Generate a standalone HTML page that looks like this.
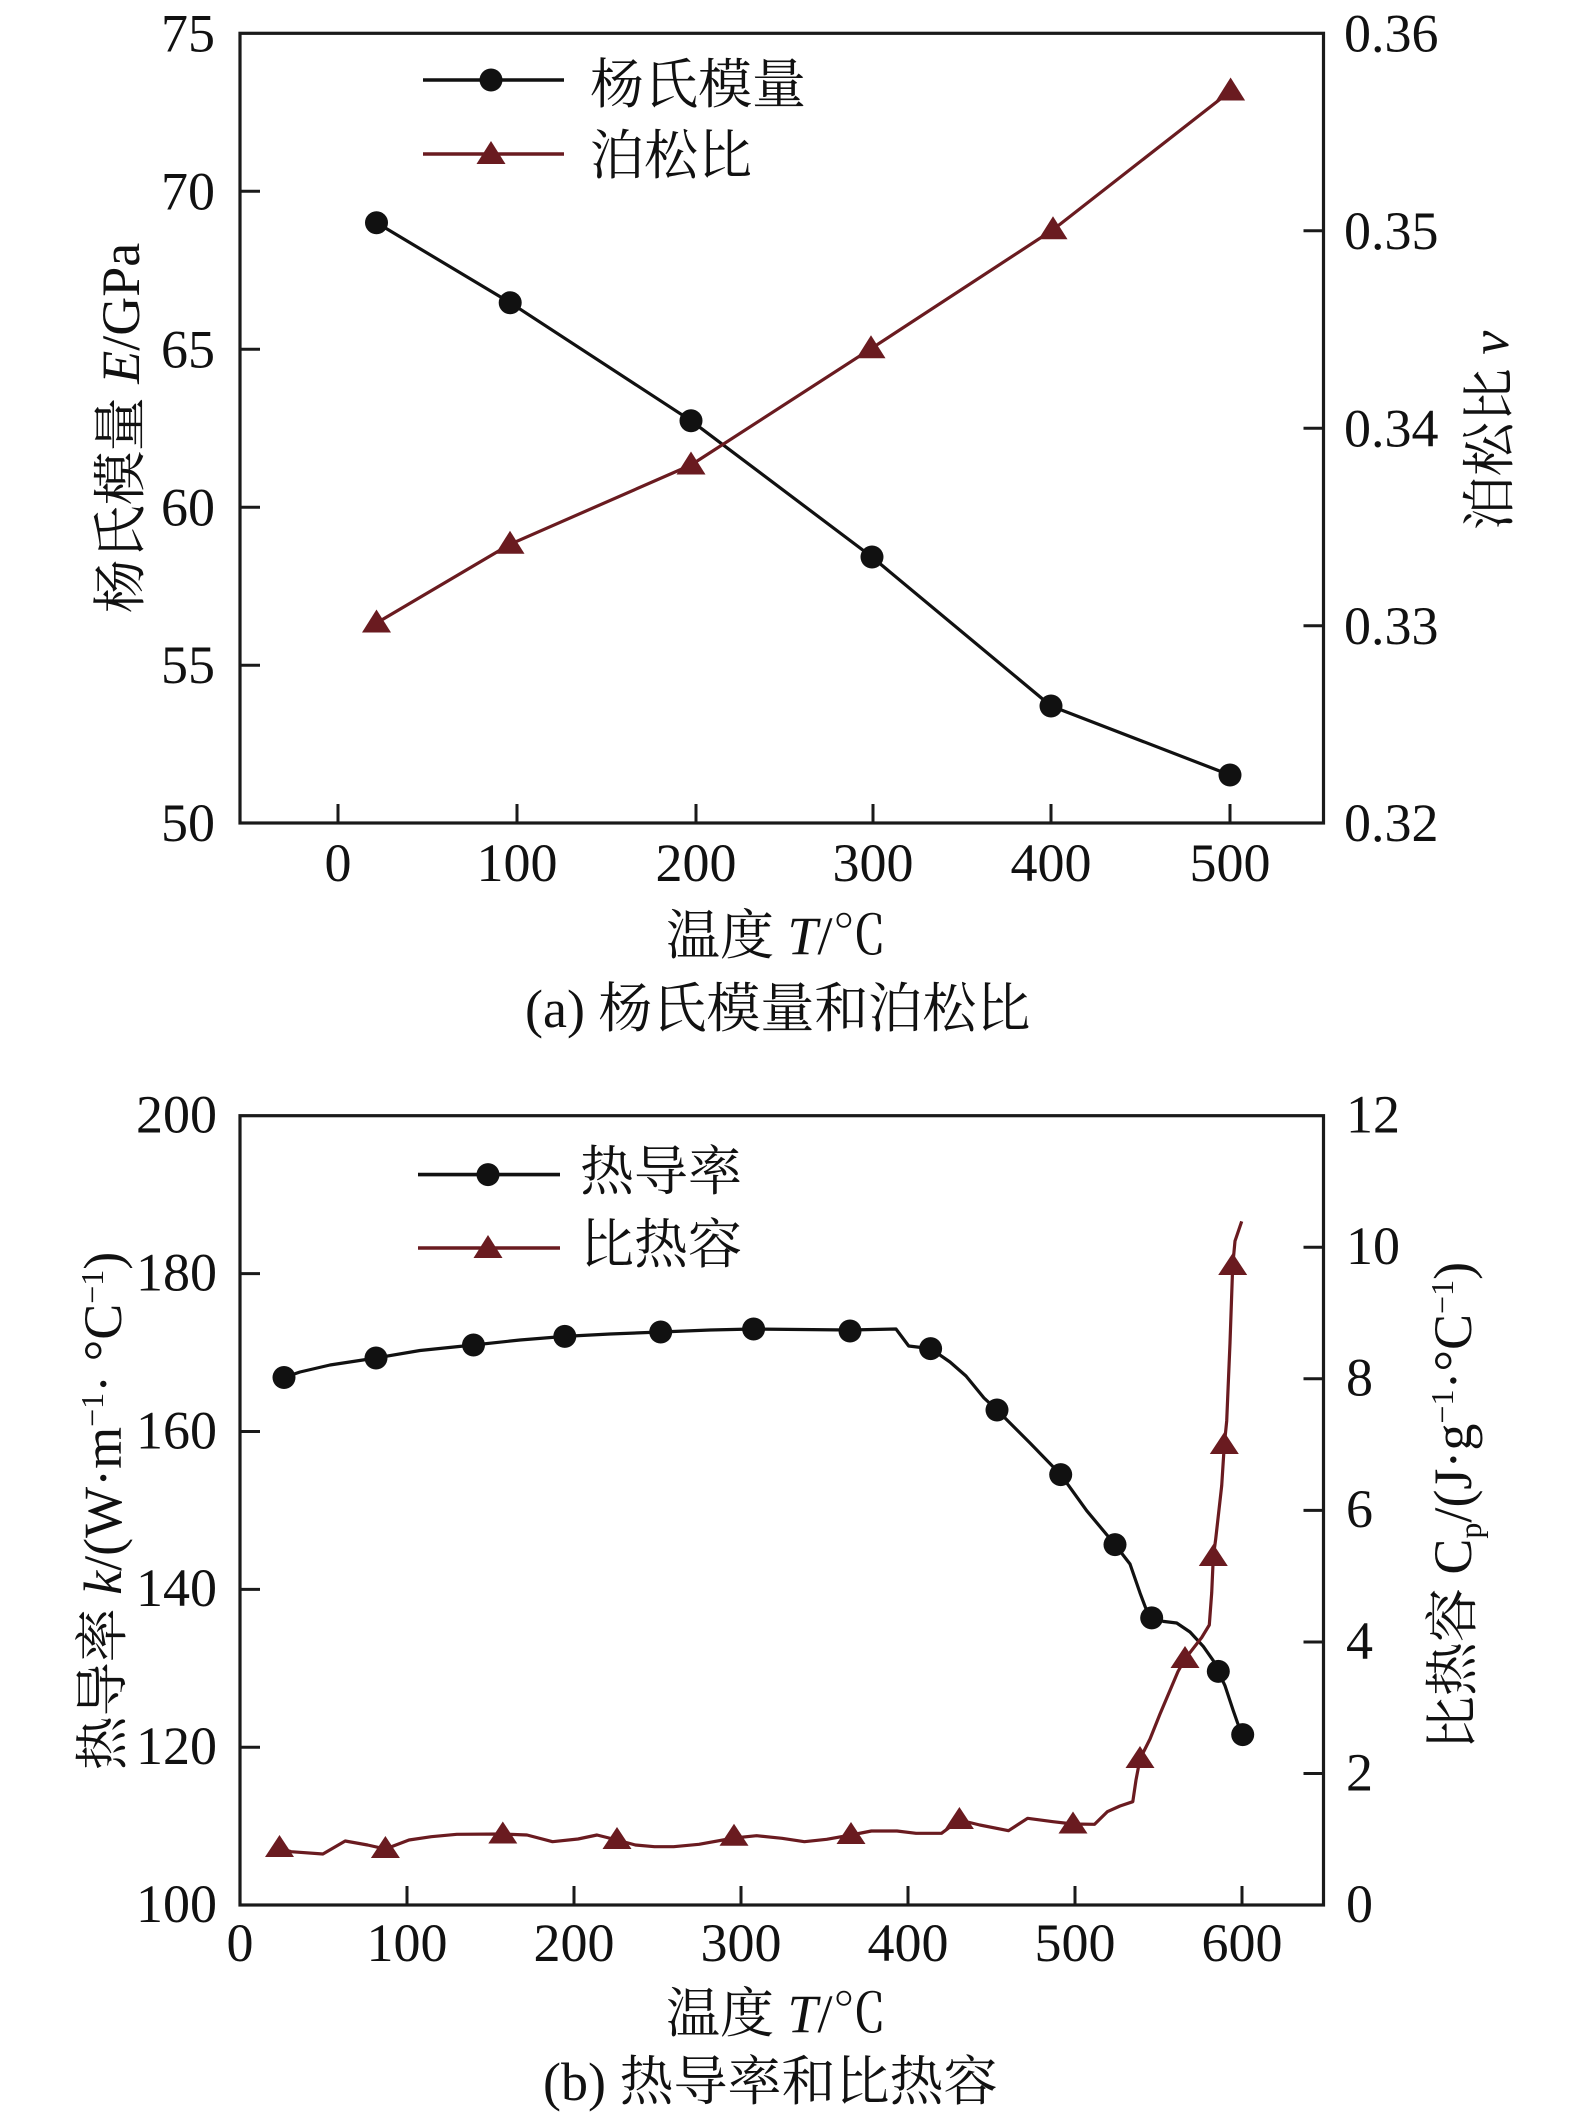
<!DOCTYPE html>
<html>
<head>
<meta charset="utf-8">
<style>
  html, body { margin: 0; padding: 0; background: #ffffff; }
  svg { display: block; }
  text { font-family: "Liberation Serif", "Noto Serif CJK SC", serif; fill: #111; }
</style>
</head>
<body>
<svg width="1575" height="2124" viewBox="0 0 1575 2124" xmlns="http://www.w3.org/2000/svg">
  <rect x="0" y="0" width="1575" height="2124" fill="#ffffff"/>

  <!-- ================= CHART (a) ================= -->
  <rect x="240" y="33.3" width="1083.5" height="789.7" fill="none" stroke="#1a1a1a" stroke-width="3.2"/>
  <!-- x ticks -->
  <g stroke="#1a1a1a" stroke-width="3">
    <line x1="338" y1="823" x2="338" y2="804"/>
    <line x1="517" y1="823" x2="517" y2="804"/>
    <line x1="696" y1="823" x2="696" y2="804"/>
    <line x1="873" y1="823" x2="873" y2="804"/>
    <line x1="1051" y1="823" x2="1051" y2="804"/>
    <line x1="1230" y1="823" x2="1230" y2="804"/>
    <!-- left y ticks -->
    <line x1="240" y1="191.3" x2="260" y2="191.3"/>
    <line x1="240" y1="349.3" x2="260" y2="349.3"/>
    <line x1="240" y1="507.3" x2="260" y2="507.3"/>
    <line x1="240" y1="665.2" x2="260" y2="665.2"/>
    <!-- right y ticks -->
    <line x1="1323.5" y1="230.8" x2="1303.5" y2="230.8"/>
    <line x1="1323.5" y1="428.3" x2="1303.5" y2="428.3"/>
    <line x1="1323.5" y1="625.8" x2="1323.5" y2="625.8"/>
    <line x1="1323.5" y1="625.8" x2="1303.5" y2="625.8"/>
  </g>
  <!-- x tick labels -->
  <g font-size="54" text-anchor="middle">
    <text x="338" y="881">0</text>
    <text x="517" y="881">100</text>
    <text x="696" y="881">200</text>
    <text x="873" y="881">300</text>
    <text x="1051" y="881">400</text>
    <text x="1230" y="881">500</text>
  </g>
  <!-- left y tick labels -->
  <g font-size="54" text-anchor="end">
    <text x="215" y="51.5">75</text>
    <text x="215" y="209.3">70</text>
    <text x="215" y="367.3">65</text>
    <text x="215" y="525.3">60</text>
    <text x="215" y="683.2">55</text>
    <text x="215" y="841">50</text>
  </g>
  <!-- right y tick labels -->
  <g font-size="54" text-anchor="start">
    <text x="1344" y="51.5">0.36</text>
    <text x="1344" y="248.8">0.35</text>
    <text x="1344" y="446.3">0.34</text>
    <text x="1344" y="643.8">0.33</text>
    <text x="1344" y="841">0.32</text>
  </g>
  <!-- axis titles -->
  <text font-size="54" x="666" y="954">温度 <tspan font-style="italic">T</tspan>/℃</text>
  <text font-size="54" x="525" y="1027">(a) 杨氏模量和泊松比</text>
  <text font-size="54" text-anchor="middle" transform="translate(139,428) rotate(-90)">杨氏模量 <tspan font-style="italic">E</tspan>/GPa</text>
  <text font-size="54" text-anchor="middle" transform="translate(1508,430.5) rotate(-90)">泊松比 <tspan font-style="italic">v</tspan></text>

  <!-- data: Young's modulus -->
  <polyline fill="none" stroke="#111" stroke-width="3.2" stroke-linejoin="round"
    points="376.5,222.7 510.2,302.7 691,420.7 872,557 1051,706 1230,775"/>
  <g fill="#111">
    <circle cx="376.5" cy="222.7" r="11.5"/>
    <circle cx="510.2" cy="302.7" r="11.5"/>
    <circle cx="691" cy="420.7" r="11.5"/>
    <circle cx="872" cy="557" r="11.5"/>
    <circle cx="1051" cy="706" r="11.5"/>
    <circle cx="1230" cy="775" r="11.5"/>
  </g>
  <!-- data: Poisson ratio -->
  <polyline fill="none" stroke="#6a1b20" stroke-width="3.2" stroke-linejoin="round"
    points="376.5,623 510,544.3 691,465 871,348.7 1053,229.7 1230.6,91"/>
  <g fill="#6a1b20">
    <polygon points="376.5,609.5 362,632.5 391,632.5"/>
    <polygon points="510,530.8 495.5,553.8 524.5,553.8"/>
    <polygon points="691,451.5 676.5,474.5 705.5,474.5"/>
    <polygon points="871,335.2 856.5,358.2 885.5,358.2"/>
    <polygon points="1053,216.2 1038.5,239.2 1067.5,239.2"/>
    <polygon points="1230.6,77.5 1216.1,100.5 1245.1,100.5"/>
  </g>
  <!-- legend (a) -->
  <line x1="423" y1="80" x2="564" y2="80" stroke="#111" stroke-width="3.6"/>
  <circle cx="491" cy="80" r="11.5" fill="#111"/>
  <text font-size="54" x="590" y="103">杨氏模量</text>
  <line x1="423" y1="154" x2="564" y2="154" stroke="#6a1b20" stroke-width="3.6"/>
  <polygon points="491,141 476.5,164 505.5,164" fill="#6a1b20"/>
  <text font-size="54" x="590" y="174">泊松比</text>

  <!-- ================= CHART (b) ================= -->
  <rect x="240" y="1115.7" width="1083.5" height="789.3" fill="none" stroke="#1a1a1a" stroke-width="3.2"/>
  <g stroke="#1a1a1a" stroke-width="3">
    <!-- x ticks -->
    <line x1="407" y1="1905" x2="407" y2="1886"/>
    <line x1="574" y1="1905" x2="574" y2="1886"/>
    <line x1="741" y1="1905" x2="741" y2="1886"/>
    <line x1="908" y1="1905" x2="908" y2="1886"/>
    <line x1="1075" y1="1905" x2="1075" y2="1886"/>
    <line x1="1242" y1="1905" x2="1242" y2="1886"/>
    <!-- left y ticks -->
    <line x1="240" y1="1273.6" x2="260" y2="1273.6"/>
    <line x1="240" y1="1431.5" x2="260" y2="1431.5"/>
    <line x1="240" y1="1589.4" x2="260" y2="1589.4"/>
    <line x1="240" y1="1747.3" x2="260" y2="1747.3"/>
    <line x1="240" y1="1905" x2="260" y2="1905"/>
    <!-- right y ticks -->
    <line x1="1323.5" y1="1247.3" x2="1303.5" y2="1247.3"/>
    <line x1="1323.5" y1="1378.8" x2="1303.5" y2="1378.8"/>
    <line x1="1323.5" y1="1510.4" x2="1303.5" y2="1510.4"/>
    <line x1="1323.5" y1="1642" x2="1303.5" y2="1642"/>
    <line x1="1323.5" y1="1773.5" x2="1303.5" y2="1773.5"/>
  </g>
  <g font-size="54" text-anchor="middle">
    <text x="240" y="1961">0</text>
    <text x="407" y="1961">100</text>
    <text x="574" y="1961">200</text>
    <text x="741" y="1961">300</text>
    <text x="908" y="1961">400</text>
    <text x="1075" y="1961">500</text>
    <text x="1242" y="1961">600</text>
  </g>
  <g font-size="54" text-anchor="end">
    <text x="217" y="1132.5">200</text>
    <text x="217" y="1290.4">180</text>
    <text x="217" y="1448.3">160</text>
    <text x="217" y="1606.2">140</text>
    <text x="217" y="1764.1">120</text>
    <text x="217" y="1921.8">100</text>
  </g>
  <g font-size="54" text-anchor="start">
    <text x="1346" y="1132.5">12</text>
    <text x="1346" y="1264.1">10</text>
    <text x="1346" y="1395.6">8</text>
    <text x="1346" y="1527.2">6</text>
    <text x="1346" y="1658.8">4</text>
    <text x="1346" y="1790.3">2</text>
    <text x="1346" y="1921.8">0</text>
  </g>
  <text font-size="54" x="666" y="2032">温度 <tspan font-style="italic">T</tspan>/℃</text>
  <text font-size="54" x="543" y="2100">(b) 热导率和比热容</text>
  <text font-size="54" text-anchor="middle" transform="translate(121,1511) rotate(-90)">热导率 <tspan font-style="italic">k</tspan>/(W·m<tspan font-size="32" dy="-18">−1</tspan><tspan dy="18">· °C</tspan><tspan font-size="32" dy="-18">−1</tspan><tspan dy="18">)</tspan></text>
  <text font-size="54" text-anchor="middle" transform="translate(1471,1506) rotate(-90)">比热容 C<tspan font-size="32" dy="10">p</tspan><tspan dy="-10">/(J·g</tspan><tspan font-size="32" dy="-18">−1</tspan><tspan dy="18">·°C</tspan><tspan font-size="32" dy="-18">−1</tspan><tspan dy="18">)</tspan></text>

  <!-- data: thermal conductivity -->
  <polyline fill="none" stroke="#111" stroke-width="3.2" stroke-linejoin="round"
    points="284,1377.5 300,1372 330,1365 376,1358 420,1350.5 473.5,1345 520,1340 564.8,1336.4 610,1334 660.7,1332 710,1330 753.6,1329 800,1329.5 850,1330 896,1329 908.7,1346 930.6,1348.6 950,1362 966,1376 984,1398 997,1410 1030,1443 1060.7,1474.6 1086.7,1510.7 1115,1544.6 1130,1564 1140,1592.9 1146.7,1610.7 1151.7,1617.9 1163.3,1621.4 1176.7,1623 1190,1632 1203.3,1646.4 1213.3,1660.7 1218.3,1671.4 1225,1685.7 1233.3,1710.7 1238.3,1725 1242.7,1734.6"/>
  <g fill="#111">
    <circle cx="284" cy="1377.5" r="11.5"/>
    <circle cx="376" cy="1358" r="11.5"/>
    <circle cx="473.5" cy="1345" r="11.5"/>
    <circle cx="564.8" cy="1336.4" r="11.5"/>
    <circle cx="660.7" cy="1332" r="11.5"/>
    <circle cx="753.6" cy="1329" r="11.5"/>
    <circle cx="850" cy="1331" r="11.5"/>
    <circle cx="930.6" cy="1348.6" r="11.5"/>
    <circle cx="997" cy="1410" r="11.5"/>
    <circle cx="1060.7" cy="1474.6" r="11.5"/>
    <circle cx="1115" cy="1544.6" r="11.5"/>
    <circle cx="1151.7" cy="1617.9" r="11.5"/>
    <circle cx="1218.3" cy="1671.4" r="11.5"/>
    <circle cx="1242.7" cy="1734.6" r="11.5"/>
  </g>
  <!-- data: specific heat -->
  <polyline fill="none" stroke="#6a1b20" stroke-width="3.2" stroke-linejoin="round"
    points="279.5,1848 291,1851.7 322.9,1854 345.2,1841 367.6,1845 385.4,1849 409,1840 431.3,1836.7 456.8,1834.3 502.8,1834 527,1835 552.5,1841.7 578,1839 597,1835 617,1840 635.4,1845 654.5,1846.7 673.7,1846.7 699,1844.3 734,1838 756.6,1835.7 782,1838.3 804.4,1841.7 826.7,1839.3 851,1835 871.4,1831 897,1831 916,1833.3 941.5,1833.3 959.4,1820 979.8,1825 1008.5,1830.7 1027.6,1818.3 1053,1821.7 1073,1824 1094.6,1824.3 1107.3,1811.7 1120,1806 1132.8,1801.7 1136,1780 1140,1759 1150,1739 1160,1714 1178,1671.5 1185,1659 1201.7,1637.5 1209.3,1625 1211.7,1592.9 1213.3,1557 1215.7,1539 1221.7,1485.7 1224.3,1445 1226.7,1421 1230,1343 1232.7,1266 1235,1241 1241.7,1221.4"/>
  <g fill="#6a1b20">
    <polygon points="279.5,1835 265,1857 294,1857"/>
    <polygon points="385.4,1836 370.9,1858 399.9,1858"/>
    <polygon points="502.8,1821.5 488.3,1843.5 517.3,1843.5"/>
    <polygon points="617,1827 602.5,1849 631.5,1849"/>
    <polygon points="734,1823.7 719.5,1845.7 748.5,1845.7"/>
    <polygon points="851,1822 836.5,1844 865.5,1844"/>
    <polygon points="959.4,1807 944.9,1829 973.9,1829"/>
    <polygon points="1073,1811.5 1058.5,1833.5 1087.5,1833.5"/>
    <polygon points="1140,1746 1125.5,1768 1154.5,1768"/>
    <polygon points="1185,1646 1170.5,1668 1199.5,1668"/>
    <polygon points="1213.3,1544 1198.8,1566 1227.8,1566"/>
    <polygon points="1224.3,1432 1209.8,1454 1238.8,1454"/>
    <polygon points="1232.7,1253 1218.2,1275 1247.2,1275"/>
  </g>
  <!-- legend (b) -->
  <line x1="418" y1="1174.6" x2="560" y2="1174.6" stroke="#111" stroke-width="3.6"/>
  <circle cx="488" cy="1174.6" r="11.5" fill="#111"/>
  <text font-size="54" x="580" y="1190">热导率</text>
  <line x1="418" y1="1248" x2="560" y2="1248" stroke="#6a1b20" stroke-width="3.6"/>
  <polygon points="488,1235 473.5,1258 502.5,1258" fill="#6a1b20"/>
  <text font-size="54" x="580" y="1263">比热容</text>
</svg>
</body>
</html>
